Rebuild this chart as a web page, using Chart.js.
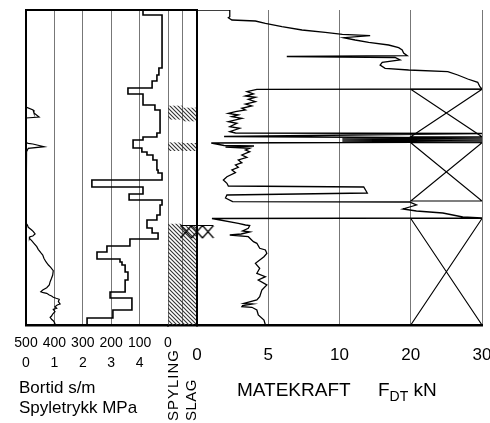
<!DOCTYPE html>
<html>
<head>
<meta charset="utf-8">
<script src="https://cdn.jsdelivr.net/npm/chart.js@4"></script>
<style>
html, body { margin: 0; padding: 0; background: #fff; overflow: hidden; }
#wrap { position: relative; width: 490px; height: 423px; overflow: hidden; font-family: "Liberation Sans", Arial, sans-serif; color: #000; }
canvas { position: absolute; top: 0; }
.lbl { position: absolute; white-space: nowrap; }
.rot { position: absolute; bottom: 2px; writing-mode: vertical-rl; transform: rotate(180deg); font-size: 15px; line-height: 15px; white-space: nowrap; }
</style>
</head>
<body>
<div id="wrap">
  <canvas id="left" width="190" height="423" style="left:0px"></canvas>
  <canvas id="mid" width="44" height="423" style="left:160px"></canvas>
  <canvas id="right" width="345" height="423" style="left:171px"></canvas>
  <div class="lbl" style="left:19px;top:378px;font-size:17px;line-height:20px">Bortid s/m<br>Spyletrykk MPa</div>
  <div class="rot" style="left:165px;letter-spacing:1px">SPYLING</div>
  <div class="rot" style="left:183px;letter-spacing:0.5px">SLAG</div>
  <div class="lbl" style="left:237px;top:379px;font-size:19px;line-height:22px">MATEKRAFT</div>
  <div class="lbl" style="left:378px;top:379px;font-size:19px;line-height:22px">F<sub style="font-size:14px">DT</sub> kN</div>
</div>
<script>
// depth scale is not labelled in the original, so 0 - 31.5 m is used
var depthMax = 31.5;

// bortid s/m, step curve (value holds from its depth down to the next one)
var bortidDepth = [0, 0.5, 5.8, 6.5, 7.1, 7.8, 8.4, 9.5, 10.0, 12.3,
  12.7, 13.0, 13.8, 14.2, 14.5, 15.0, 16.0, 16.3, 17.0, 17.7,
  18.4, 19.0, 19.5, 20.5, 21.0, 21.8, 22.3, 22.9, 23.6, 24.2,
  24.9, 25.2, 25.5, 26.2, 27.0, 28.2, 28.8, 30.0, 30.8, 31.5];
var bortidValue = [88, 21, 32, 39, 56, 141, 88, 46, 28, 39,
  88, 123, 92, 74, 53, 39, 35, 21, 268, 88,
  137, 21, 28, 39, 74, 56, 35, 134, 215, 250,
  169, 162, 151, 141, 151, 204, 127, 194, 285, 285];

// spyletrykk MPa
var spyleDepth = [0, 9.7, 10.0, 10.3, 10.7, 10.8, 13.27, 13.33, 13.4, 13.67, 13.83, 14.17, 14.3,
  21.3, 21.5, 21.73, 22.0, 22.17, 22.4, 22.6, 22.67, 22.83, 23.07, 23.33, 23.67, 23.93,
  24.27, 24.5, 24.83, 25.17, 25.5, 25.73, 26.07, 26.5, 26.83, 27.17, 27.5, 27.77, 28.0,
  28.17, 28.27, 28.33, 28.5, 28.6, 28.73, 28.83, 28.93, 29.17, 29.4, 29.5, 29.67, 29.83,
  29.93, 30.17, 30.4, 30.6, 30.73, 30.93, 31.07, 31.33, 31.5];
var spyleValue = [0, 0, 0.25, 0.28, 0.46, 0, 0, 0.08, 0.24, 0.64, 0.08, 0.02, 0,
  0, 0.05, 0.08, 0.2, 0.26, 0.32, 0.24, 0.14, 0.12, 0.2, 0.28, 0.38, 0.43,
  0.52, 0.59, 0.63, 0.7, 0.79, 0.87, 0.96, 0.94, 0.9, 0.85, 0.82, 0.73, 0.59,
  0.52, 0.61, 0.73, 0.82, 0.9, 0.96, 1.06, 1.17, 1.14, 1.2, 1.1, 1.02, 1.08,
  0.96, 1.02, 0.94, 0.9, 0.85, 0.9, 0.96, 1.02, 0.96];

// matekraft F_DT kN
var forceDepth = [0, 0, 0.67, 0.77, 1.0, 1.1, 1.33, 1.67, 2.0, 2.23,
  2.43, 2.57, 2.77, 3.0, 3.23, 3.5, 3.77, 4.0, 4.3, 4.57,
  4.65, 4.75, 5.0, 5.23, 5.5, 5.83, 6.0, 6.17, 6.5, 6.9,
  7.23, 7.67, 7.9, 7.93,
  8.17, 8.4, 8.6, 8.73, 8.93, 9.17, 9.4, 9.6, 9.83, 10.0,
  10.17, 10.33, 10.5, 10.67, 10.83, 11.17, 11.33, 11.67, 11.83, 12.17, 12.3,
  12.35, 12.65, 12.8, 12.9, 13.0, 13.1, 13.2, 13.3,
  13.55, 13.6, 13.7, 13.83, 14.0, 14.17, 14.5, 14.73, 15.0, 15.27,
  15.5, 15.73, 16.0, 16.27, 16.67, 17.0, 17.33, 17.6,
  17.7, 18.3, 18.5, 18.8, 19.17, 19.2, 19.5, 19.9, 20.1, 20.3, 20.7, 20.8, 20.85,
  21.33, 21.5, 21.55, 21.83, 22.1, 22.2, 22.4, 22.5, 22.67, 23.17,
  23.33, 23.83, 24.0, 24.33, 24.67, 25.33, 25.83, 26.33, 26.67, 27.0,
  27.5, 28.0, 28.67, 29.0, 29.33, 29.4, 29.55, 29.67, 29.73, 30.0,
  30.5, 31.0, 31.5];
var forceValue = [0, 2.3, 2.3, 2.2, 2.45, 4.1, 4.8, 5.96, 7.37, 9.0,
  10.4, 14.3, 10.6, 12.2, 14.1, 16.9, 18.3, 18.8, 19.0, 19.5,
  6.3, 17.8, 18.5, 16.0, 15.7, 16.4, 19.7, 25.2, 26.6, 28.0,
  29.4, 29.7, 30, 4.2,
  3.5, 3.96, 3.4, 4.1, 3.6, 4.1, 3.4, 3.85, 3.15, 3.4,
  2.7, 2.2, 2.9, 2.45, 3.15, 2.2, 2.8, 2.3, 3.0, 2.3, 2.7,
  30, 1.9, 30, 10.4, 30, 10.4, 30, 1.0,
  1.9, 4.0, 2.0, 3.7, 3.4, 3.7, 3.15, 3.5, 2.9, 3.15,
  2.7, 2.9, 2.45, 2.7, 2.1, 1.85, 2.1, 2.2,
  13.4, 13.9, 2.1, 2.0, 2.5, 19.8, 20.8, 18.9, 20.8, 24.5, 27.3, 30, 1.05,
  2.9, 3.4, 3.7, 3.6, 3.2, 3.7, 3.1, 2.3, 3.6, 3.96,
  4.2, 4.4, 4.8, 4.9, 4.7, 4.1, 4.4, 4.2, 4.8, 4.3,
  4.9, 4.55, 4.4, 4.2, 3.3, 3.9, 3.2, 3.15, 3.85, 4.2,
  4.3, 4.7, 4.8];

// boring in rock (crossed boxes, 20-30 kN column)
var rockTop = [7.93, 13.27, 20.85];
var rockBottom = [12.67, 19.1, 31.5];

// hatched intervals
var spylingTop = [9.6, 13.27, 21.4];
var spylingBottom = [10.93, 14.07, 31.5];
var slagTop = [9.8, 13.33, 21.67];
var slagBottom = [11.1, 14.07, 31.5];
var markerDepth = [22.15];

var bortidTicks = [0, 100, 200, 300, 400, 500];
var bortidTickLabels = ["0", "100", "200", "300", "400", "500"];
var spyleTickLabels = ["", "4", "3", "2", "1", "0"];
var forceTicks = [0, 5, 10, 15, 20];
var forceTickLabels = ["0", "5", "10", "20", "30"];

Chart.defaults.font.family = '"Liberation Sans", Arial, sans-serif';
Chart.defaults.color = "#000";

var gridGrey = "#777";
var none = "rgba(0,0,0,0)";

// 0-10 kN takes half the width, 10-30 kN the other half
function fx(v) {
  return v <= 10 ? v : 10 + (v - 10) / 2;
}

function depthAxis(topLine, leftBorder) {
  return {
    type: "linear", min: 0, max: depthMax, reverse: true,
    ticks: { display: false },
    grid: {
      drawTicks: false,
      color: function (c) { return topLine && c.tick.value === 0 ? "#000" : none; },
      lineWidth: function (c) { return topLine && c.tick.value === 0 ? 2 : 1; }
    },
    border: { display: leftBorder, color: "#000", width: 2 }
  };
}

var noPlugins = { legend: { display: false }, tooltip: { enabled: false } };

// left panel: bortid + spyletrykk
new Chart(document.getElementById("left"), {
  type: "scatter",
  data: {
    datasets: [
      {
        data: bortidDepth.map(function (d, i) { return { x: bortidValue[i], y: d }; }),
        xAxisID: "x", showLine: true, stepped: "after",
        borderColor: "#000", borderWidth: 1.6, pointRadius: 0
      },
      {
        data: spyleDepth.map(function (d, i) { return { x: spyleValue[i], y: d }; }),
        xAxisID: "sp", showLine: true,
        borderColor: "#000", borderWidth: 1.2, pointRadius: 0
      }
    ]
  },
  options: {
    responsive: false, animation: false,
    layout: { autoPadding: false, padding: { left: 26, right: 22, top: 10, bottom: 42 } },
    plugins: noPlugins,
    scales: {
      x: {
        type: "linear", position: "bottom", min: 0, max: 500, reverse: true,
        ticks: {
          stepSize: 100, padding: 8, maxRotation: 0, autoSkip: false,
          font: { size: 14, lineHeight: "20px" },
          callback: function (v) {
            var k = bortidTicks.indexOf(v);
            return [bortidTickLabels[k], spyleTickLabels[k]];
          }
        },
        grid: { drawTicks: false, color: function (c) { return c.tick.value === 500 ? none : gridGrey; } },
        border: { color: "#000", width: 2.5 }
      },
      sp: { type: "linear", axis: "x", display: false, min: 0, max: 5 },
      y: depthAxis(true, true)
    }
  }
});

function hatchPattern() {
  var c = document.createElement("canvas");
  c.width = 4; c.height = 4;
  var g = c.getContext("2d");
  g.strokeStyle = "#333";
  g.lineWidth = 1.1;
  g.beginPath();
  g.moveTo(0, 0); g.lineTo(4, 4);
  g.moveTo(-1, 3); g.lineTo(1, 5);
  g.moveTo(3, -1); g.lineTo(5, 1);
  g.stroke();
  return g.createPattern(c, "repeat");
}
var hatch = hatchPattern();

// middle columns: spyling / slag
new Chart(document.getElementById("mid"), {
  type: "bar",
  data: {
    labels: ["SPYLING", "SLAG"],
    datasets: spylingTop.map(function (t, i) {
      return {
        data: [[t, spylingBottom[i]], [slagTop[i], slagBottom[i]]],
        backgroundColor: hatch, borderWidth: 0,
        barPercentage: 1, categoryPercentage: 1, grouped: false
      };
    })
  },
  options: {
    responsive: false, animation: false,
    layout: { autoPadding: false, padding: { left: 8, right: 7, top: 10, bottom: 98 } },
    plugins: noPlugins,
    scales: {
      x: {
        ticks: { display: false },
        grid: { drawTicks: false, offset: true, color: gridGrey },
        border: { color: "#000", width: 2.5 }
      },
      y: depthAxis(true, false)
    }
  }
});

function markerGlyph() {
  var c = document.createElement("canvas");
  c.width = 35; c.height = 15;
  var g = c.getContext("2d");
  g.strokeStyle = "#000";
  g.lineWidth = 1.2;
  g.beginPath();
  g.moveTo(1, 1.5); g.lineTo(34, 1.5);
  for (var k = 0; k < 3; k++) {
    var a = 1 + k * 11;
    g.moveTo(a, 1.5); g.lineTo(a + 11, 14);
    g.moveTo(a + 11, 1.5); g.lineTo(a, 14);
  }
  g.stroke();
  return c;
}

var rightSets = [
  {
    data: forceDepth.map(function (d, i) { return { x: fx(forceValue[i]), y: d }; }),
    showLine: true, borderColor: "#000", borderWidth: 1.3, pointRadius: 0
  }
];
rockTop.forEach(function (t, i) {
  var b = rockBottom[i];
  rightSets.push({
    data: [{ x: fx(20), y: t }, { x: fx(30), y: t }, { x: fx(20), y: b }, { x: fx(30), y: b }, { x: fx(20), y: t }],
    showLine: true, borderColor: "#000", borderWidth: 1.1, pointRadius: 0
  });
});
rightSets.push({
  data: markerDepth.map(function (d) { return { x: 0, y: d }; }),
  pointStyle: markerGlyph(), pointRadius: 10, showLine: false, clip: false
});

// right panel: matekraft (tick padding also pads sideways, so wide side padding)
new Chart(document.getElementById("right"), {
  type: "scatter",
  data: { datasets: rightSets },
  options: {
    responsive: false, animation: false,
    layout: { autoPadding: false, padding: { left: 26, right: 34, top: 10, bottom: 37.6 } },
    plugins: noPlugins,
    scales: {
      x: {
        type: "linear", min: 0, max: 20,
        ticks: {
          stepSize: 5, padding: 20, maxRotation: 0, autoSkip: false,
          font: { size: 17, lineHeight: 1.2 },
          callback: function (v) { return forceTickLabels[forceTicks.indexOf(v)]; }
        },
        grid: { drawTicks: false, color: function (c) { return c.tick.value === 0 ? none : gridGrey; } },
        border: { color: "#000", width: 2.5 }
      },
      y: depthAxis(false, true)
    }
  }
});
</script>
</body>
</html>
